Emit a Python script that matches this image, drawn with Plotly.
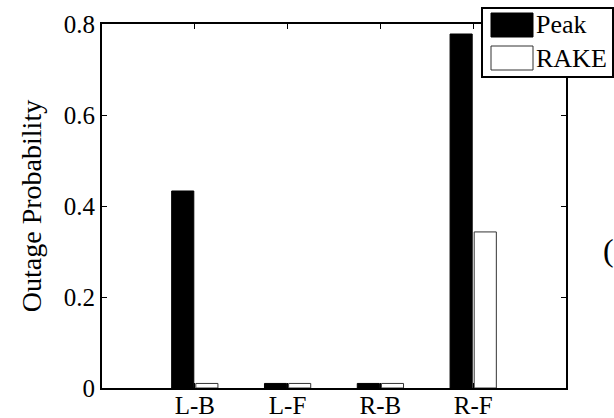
import plotly.graph_objects as go

categories = ["L-B", "L-F", "R-B", "R-F"]
peak = [0.433, 0.01, 0.01, 0.778]
rake = [0.01, 0.01, 0.01, 0.343]
y_ticks = [0, 0.2, 0.4, 0.6, 0.8]
y_ticklabels = ["0", "0.2", "0.4", "0.6", "0.8"]

FONT = "Liberation Serif, Times New Roman, serif"

# plot area in px
L, R, T, B = 102, 566, 24, 388
W, H = 614, 418

def px_x(p):
    return (p - L) / (R - L)

def px_y(p):
    return (B - p) / (B - T)

fig = go.Figure()
fig.add_trace(go.Bar(x=categories, y=peak, name="Peak",
                     marker=dict(color="black", line=dict(color="black", width=1))))
fig.add_trace(go.Bar(x=categories, y=rake, name="RAKE",
                     marker=dict(color="white", line=dict(color="#333333", width=1))))

fig.update_layout(
    width=W, height=H,
    margin=dict(l=L, r=W - R, t=T, b=H - B, autoexpand=False),
    paper_bgcolor="white", plot_bgcolor="white",
    barmode="group", bargap=0.48, bargroupgap=0.083,
    showlegend=False,
    font=dict(family=FONT, size=25, color="black"),
)
fig.update_xaxes(
    type="category", range=[-1, 4],
    showline=True, linewidth=2, linecolor="black", mirror="ticks",
    ticks="inside", ticklen=5, tickwidth=1, tickcolor="black",
    showgrid=False, zeroline=False,
    tickfont=dict(family=FONT, size=25),
    ticklabelstandoff=-6,
)
fig.update_yaxes(
    range=[0, 0.8], tickvals=y_ticks, ticktext=y_ticklabels,
    showline=True, linewidth=2, linecolor="black", mirror="ticks",
    ticks="inside", ticklen=5, tickwidth=1, tickcolor="black",
    showgrid=False, zeroline=False,
    tickfont=dict(family=FONT, size=25),
    title=dict(text="Outage Probability", font=dict(family=FONT, size=28), standoff=14),
)

# manual legend (MATLAB style)
shapes = [
    dict(type="rect", xref="paper", yref="paper", layer="above",
         x0=px_x(482), x1=px_x(613), y0=px_y(77), y1=px_y(8),
         line=dict(color="black", width=2), fillcolor="white"),
    dict(type="rect", xref="paper", yref="paper", layer="above",
         x0=px_x(491), x1=px_x(533), y0=px_y(37), y1=px_y(13),
         line=dict(color="black", width=1), fillcolor="black"),
    dict(type="rect", xref="paper", yref="paper", layer="above",
         x0=px_x(491), x1=px_x(533), y0=px_y(70), y1=px_y(46),
         line=dict(color="#333333", width=1), fillcolor="white"),
]
annotations = [
    dict(text="Peak", xref="paper", yref="paper", x=px_x(534), y=px_y(25),
         xanchor="left", yanchor="middle", showarrow=False,
         font=dict(family=FONT, size=26)),
    dict(text="RAKE", xref="paper", yref="paper", x=px_x(534), y=px_y(58),
         xanchor="left", yanchor="middle", showarrow=False,
         font=dict(family=FONT, size=26)),
    dict(text="(", xref="paper", yref="paper", x=px_x(601), y=px_y(250),
         xanchor="left", yanchor="middle", showarrow=False,
         font=dict(family=FONT, size=32)),
]
fig.update_layout(shapes=shapes, annotations=annotations)

fig.write_html("out.html")
